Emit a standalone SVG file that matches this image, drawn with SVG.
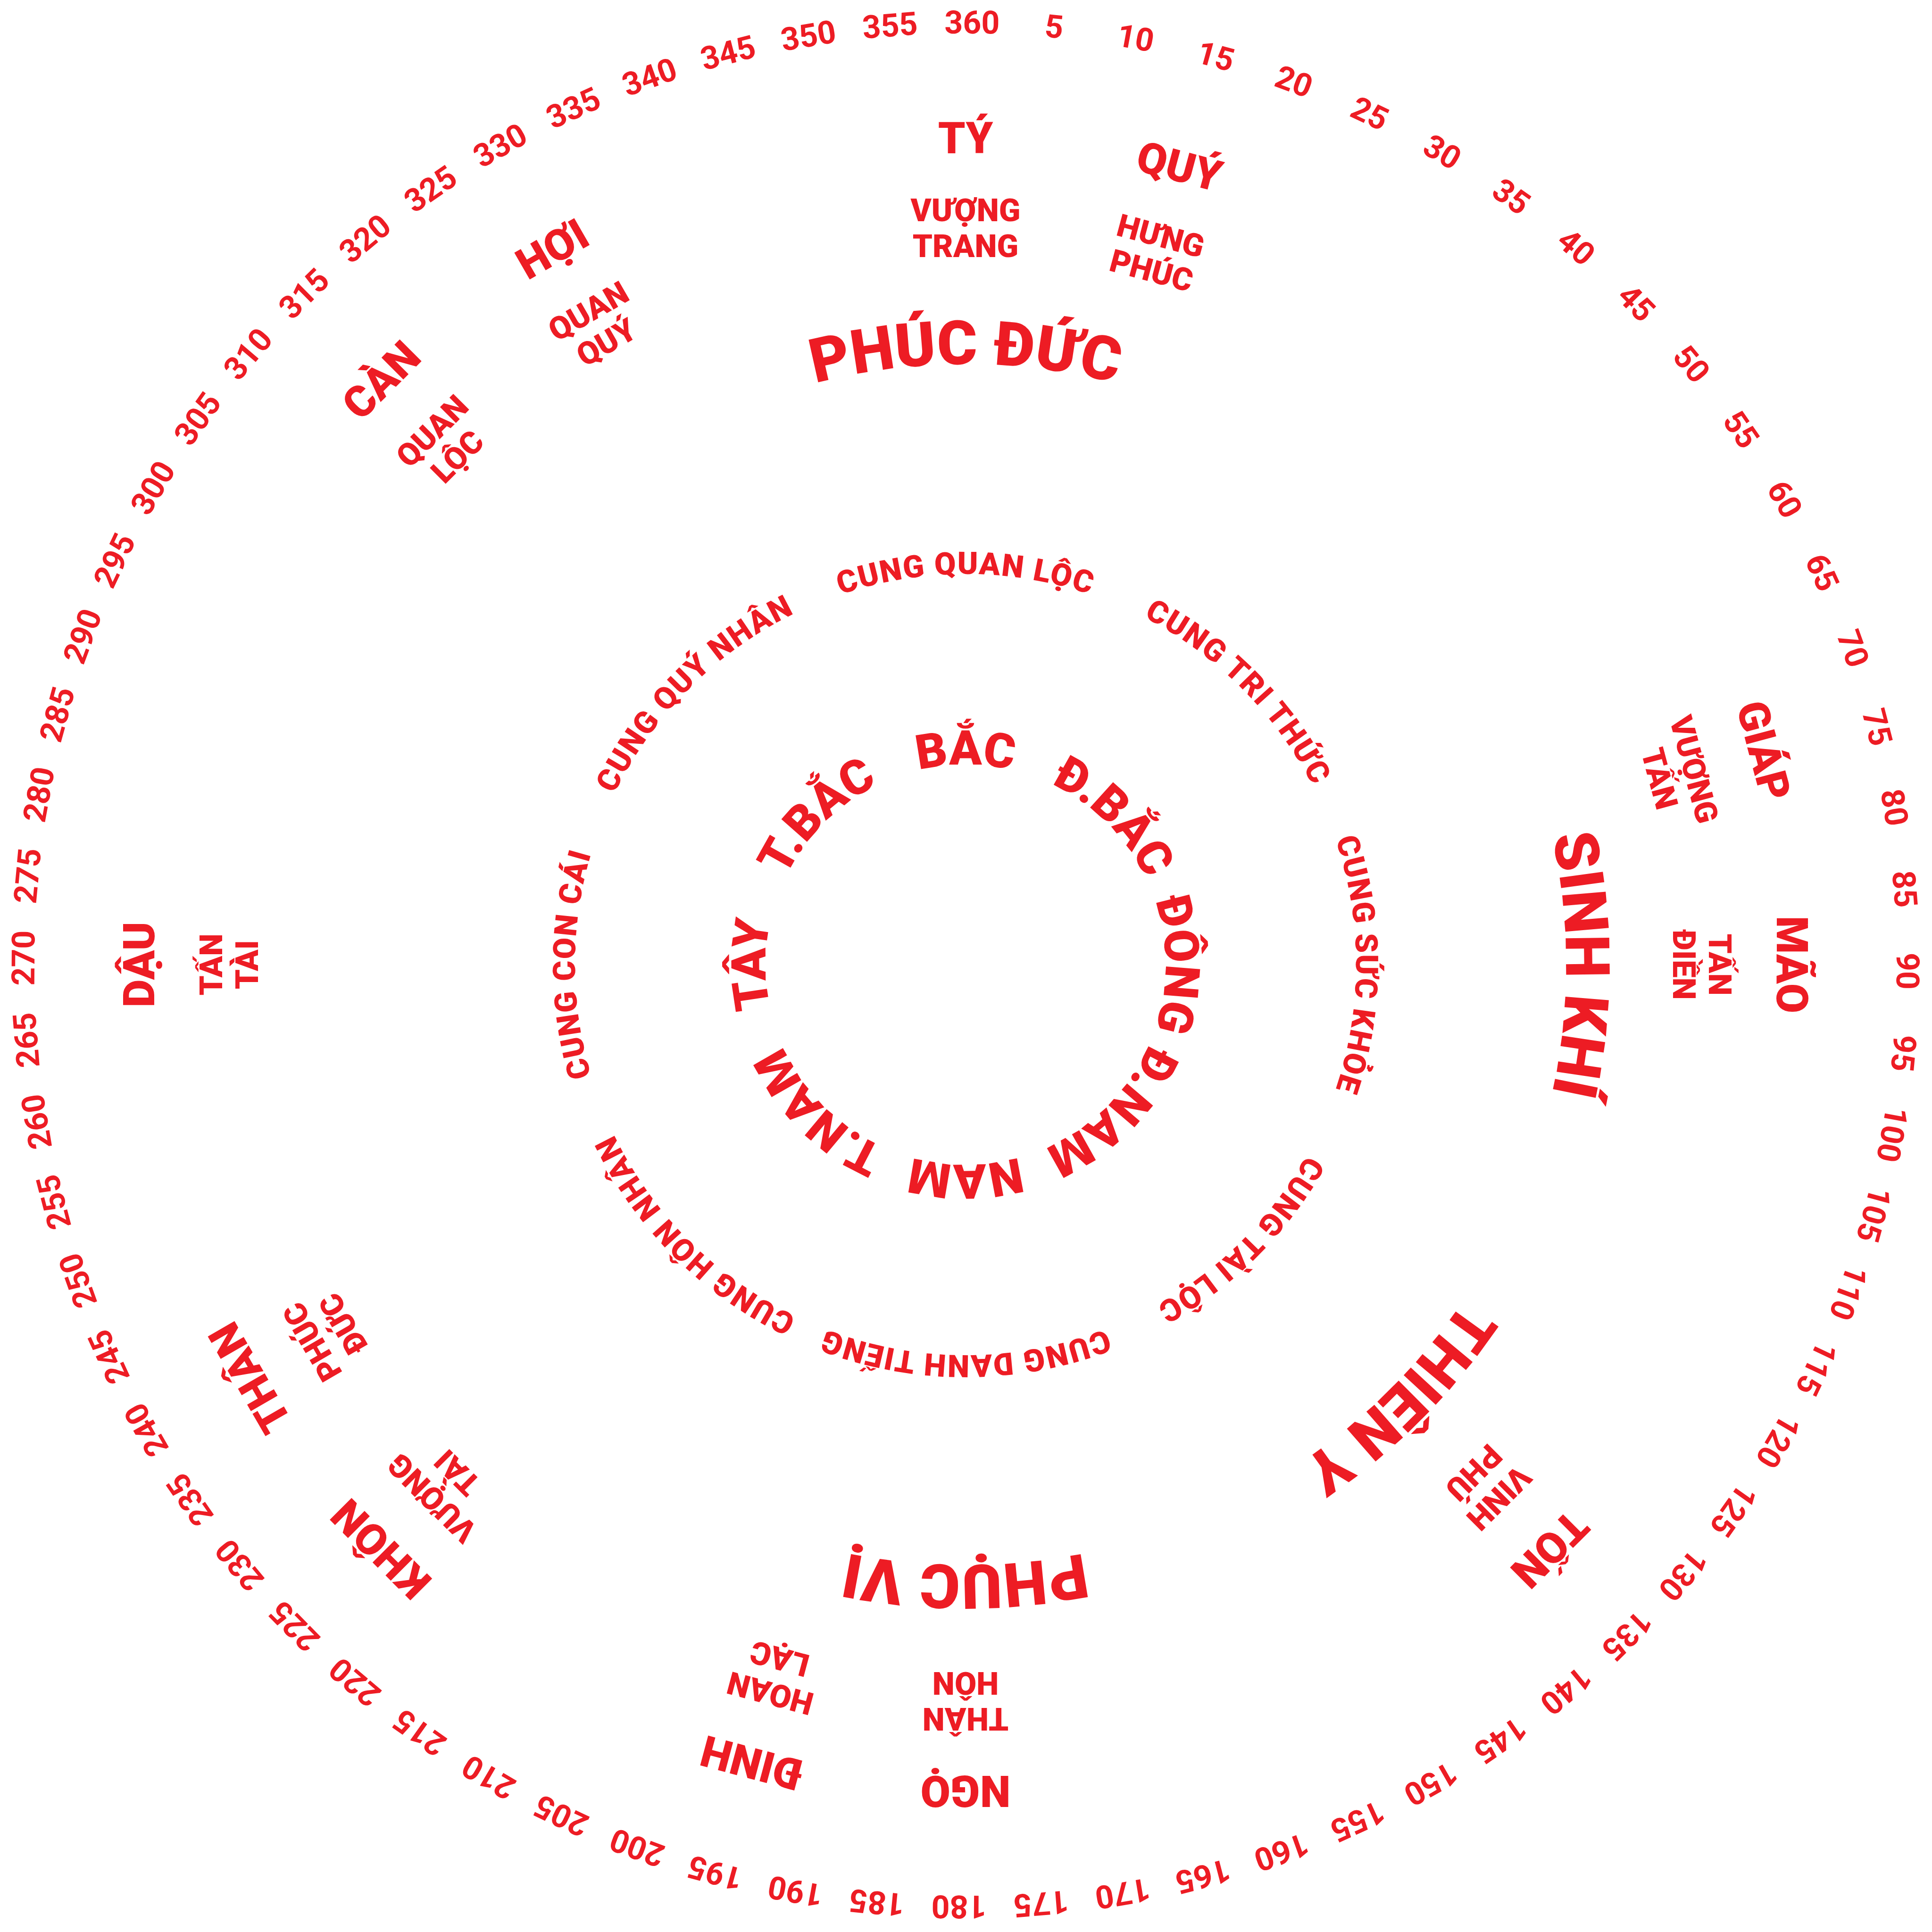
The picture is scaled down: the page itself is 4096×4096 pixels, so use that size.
<svg xmlns="http://www.w3.org/2000/svg" xmlns:xlink="http://www.w3.org/1999/xlink" width="4096" height="4096" viewBox="0 0 4096 4096">
<style>
text{fill:#ED1C24;font-family:Roboto,"Liberation Sans",sans-serif;text-anchor:middle}
.deg{font-size:68px;font-weight:700}
.mt{font-size:92px;font-weight:900}
.sub{font-size:67px;font-weight:900}
.big{font-size:130px;font-weight:900}
.cung{font-size:66px;font-weight:900;letter-spacing:2px}
.dir{font-size:102px;font-weight:900}
</style>
<defs>
<path id="pBig" d="M2047,3318 A1273,1273 0 0 1 2047,772 A1273,1273 0 0 1 2047,3318"/>
<path id="pCung" d="M2047,2873 A828,828 0 0 1 2047,1217 A828,828 0 0 1 2047,2873"/>
<path id="pDir" d="M2047,2469 A424,424 0 0 1 2047,1621 A424,424 0 0 1 2047,2469"/>
</defs>
<rect width="4096" height="4096" fill="#fff"/>
<g id="degrees">
<text class="deg" transform="rotate(5.4 2047 2045)" x="2047" y="71">5</text>
<text class="deg" transform="rotate(10.4 2047 2045)" x="2047" y="71">10</text>
<text class="deg" transform="rotate(15.4 2047 2045)" x="2047" y="71">15</text>
<text class="deg" transform="rotate(20.4 2047 2045)" x="2047" y="71">20</text>
<text class="deg" transform="rotate(25.4 2047 2045)" x="2047" y="71">25</text>
<text class="deg" transform="rotate(30.4 2047 2045)" x="2047" y="71">30</text>
<text class="deg" transform="rotate(35.4 2047 2045)" x="2047" y="71">35</text>
<text class="deg" transform="rotate(40.4 2047 2045)" x="2047" y="71">40</text>
<text class="deg" transform="rotate(45.4 2047 2045)" x="2047" y="71">45</text>
<text class="deg" transform="rotate(50.4 2047 2045)" x="2047" y="71">50</text>
<text class="deg" transform="rotate(55.4 2047 2045)" x="2047" y="71">55</text>
<text class="deg" transform="rotate(60.4 2047 2045)" x="2047" y="71">60</text>
<text class="deg" transform="rotate(65.4 2047 2045)" x="2047" y="71">65</text>
<text class="deg" transform="rotate(70.4 2047 2045)" x="2047" y="71">70</text>
<text class="deg" transform="rotate(75.4 2047 2045)" x="2047" y="71">75</text>
<text class="deg" transform="rotate(80.4 2047 2045)" x="2047" y="71">80</text>
<text class="deg" transform="rotate(85.4 2047 2045)" x="2047" y="71">85</text>
<text class="deg" transform="rotate(90.4 2047 2045)" x="2047" y="71">90</text>
<text class="deg" transform="rotate(95.4 2047 2045)" x="2047" y="71">95</text>
<text class="deg" transform="rotate(100.4 2047 2045)" x="2047" y="71">100</text>
<text class="deg" transform="rotate(105.4 2047 2045)" x="2047" y="71">105</text>
<text class="deg" transform="rotate(110.4 2047 2045)" x="2047" y="71">110</text>
<text class="deg" transform="rotate(115.4 2047 2045)" x="2047" y="71">115</text>
<text class="deg" transform="rotate(120.4 2047 2045)" x="2047" y="71">120</text>
<text class="deg" transform="rotate(125.4 2047 2045)" x="2047" y="71">125</text>
<text class="deg" transform="rotate(130.4 2047 2045)" x="2047" y="71">130</text>
<text class="deg" transform="rotate(135.4 2047 2045)" x="2047" y="71">135</text>
<text class="deg" transform="rotate(140.4 2047 2045)" x="2047" y="71">140</text>
<text class="deg" transform="rotate(145.4 2047 2045)" x="2047" y="71">145</text>
<text class="deg" transform="rotate(150.4 2047 2045)" x="2047" y="71">150</text>
<text class="deg" transform="rotate(155.4 2047 2045)" x="2047" y="71">155</text>
<text class="deg" transform="rotate(160.4 2047 2045)" x="2047" y="71">160</text>
<text class="deg" transform="rotate(165.4 2047 2045)" x="2047" y="71">165</text>
<text class="deg" transform="rotate(170.4 2047 2045)" x="2047" y="71">170</text>
<text class="deg" transform="rotate(175.4 2047 2045)" x="2047" y="71">175</text>
<text class="deg" transform="rotate(180.4 2047 2045)" x="2047" y="71">180</text>
<text class="deg" transform="rotate(185.4 2047 2045)" x="2047" y="71">185</text>
<text class="deg" transform="rotate(190.4 2047 2045)" x="2047" y="71">190</text>
<text class="deg" transform="rotate(195.4 2047 2045)" x="2047" y="71">195</text>
<text class="deg" transform="rotate(200.4 2047 2045)" x="2047" y="71">200</text>
<text class="deg" transform="rotate(205.4 2047 2045)" x="2047" y="71">205</text>
<text class="deg" transform="rotate(210.4 2047 2045)" x="2047" y="71">210</text>
<text class="deg" transform="rotate(215.4 2047 2045)" x="2047" y="71">215</text>
<text class="deg" transform="rotate(220.4 2047 2045)" x="2047" y="71">220</text>
<text class="deg" transform="rotate(225.4 2047 2045)" x="2047" y="71">225</text>
<text class="deg" transform="rotate(230.4 2047 2045)" x="2047" y="71">230</text>
<text class="deg" transform="rotate(235.4 2047 2045)" x="2047" y="71">235</text>
<text class="deg" transform="rotate(240.4 2047 2045)" x="2047" y="71">240</text>
<text class="deg" transform="rotate(245.4 2047 2045)" x="2047" y="71">245</text>
<text class="deg" transform="rotate(250.4 2047 2045)" x="2047" y="71">250</text>
<text class="deg" transform="rotate(255.4 2047 2045)" x="2047" y="71">255</text>
<text class="deg" transform="rotate(260.4 2047 2045)" x="2047" y="71">260</text>
<text class="deg" transform="rotate(265.4 2047 2045)" x="2047" y="71">265</text>
<text class="deg" transform="rotate(270.4 2047 2045)" x="2047" y="71">270</text>
<text class="deg" transform="rotate(275.4 2047 2045)" x="2047" y="71">275</text>
<text class="deg" transform="rotate(280.4 2047 2045)" x="2047" y="71">280</text>
<text class="deg" transform="rotate(285.4 2047 2045)" x="2047" y="71">285</text>
<text class="deg" transform="rotate(290.4 2047 2045)" x="2047" y="71">290</text>
<text class="deg" transform="rotate(295.4 2047 2045)" x="2047" y="71">295</text>
<text class="deg" transform="rotate(300.4 2047 2045)" x="2047" y="71">300</text>
<text class="deg" transform="rotate(305.4 2047 2045)" x="2047" y="71">305</text>
<text class="deg" transform="rotate(310.4 2047 2045)" x="2047" y="71">310</text>
<text class="deg" transform="rotate(315.4 2047 2045)" x="2047" y="71">315</text>
<text class="deg" transform="rotate(320.4 2047 2045)" x="2047" y="71">320</text>
<text class="deg" transform="rotate(325.4 2047 2045)" x="2047" y="71">325</text>
<text class="deg" transform="rotate(330.4 2047 2045)" x="2047" y="71">330</text>
<text class="deg" transform="rotate(335.4 2047 2045)" x="2047" y="71">335</text>
<text class="deg" transform="rotate(340.4 2047 2045)" x="2047" y="71">340</text>
<text class="deg" transform="rotate(345.4 2047 2045)" x="2047" y="71">345</text>
<text class="deg" transform="rotate(350.4 2047 2045)" x="2047" y="71">350</text>
<text class="deg" transform="rotate(355.4 2047 2045)" x="2047" y="71">355</text>
<text class="deg" transform="rotate(0.4 2047 2045)" x="2047" y="71">360</text>
</g>
<g id="mountains">
<g id="m-ty" transform="rotate(0 2047 2045)"><text class="mt" x="2047" y="325">TÝ</text><text class="sub"><tspan x="2047" y="469">VƯỢNG</tspan><tspan x="2047" y="545">TRANG</tspan></text></g>
<g id="m-quy" transform="rotate(15 2047 2045)"><text class="mt" x="2047" y="325">QUÝ</text><text class="sub"><tspan x="2047" y="469">HƯNG</tspan><tspan x="2047" y="545">PHÚC</tspan></text></g>
<g id="m-giap" transform="rotate(75 2047 2045)"><text class="mt" x="2047" y="325">GIÁP</text><text class="sub"><tspan x="2047" y="469">VƯỢNG</tspan><tspan x="2047" y="545">TẤN</tspan></text></g>
<g id="m-mao" transform="rotate(90 2047 2045)"><text class="mt" x="2047" y="325">MÃO</text><text class="sub"><tspan x="2047" y="469">TẤN</tspan><tspan x="2047" y="545">ĐIỀN</tspan></text></g>
<g id="m-ton" transform="rotate(135 2047 2045)"><text class="mt" x="2047" y="325">TỐN</text><text class="sub"><tspan x="2047" y="469">VINH</tspan><tspan x="2047" y="545">PHÚ</tspan></text></g>
<g id="m-ngo" transform="rotate(180 2047 2045)"><text class="mt" x="2047" y="325">NGỌ</text><text class="sub"><tspan x="2047" y="469">THÂN</tspan><tspan x="2047" y="545">HÔN</tspan></text></g>
<g id="m-dinh" transform="rotate(195 2047 2045)"><text class="mt" x="2047" y="325">ĐINH</text><text class="sub"><tspan x="2047" y="469">HOAN</tspan><tspan x="2047" y="545">LẠC</tspan></text></g>
<g id="m-khon" transform="rotate(225 2047 2045)"><text class="mt" x="2047" y="325">KHÔN</text><text class="sub"><tspan x="2047" y="469">VƯỢNG</tspan><tspan x="2047" y="545">TÀI</tspan></text></g>
<g id="m-than" transform="rotate(240 2047 2045)"><text class="mt" x="2047" y="325">THÂN</text><text class="sub"><tspan x="2047" y="469">PHÚC</tspan><tspan x="2047" y="545">ĐỨC</tspan></text></g>
<g id="m-dau" transform="rotate(270 2047 2045)"><text class="mt" x="2047" y="325">DẬU</text><text class="sub"><tspan x="2047" y="469">TẤN</tspan><tspan x="2047" y="545">TÀI</tspan></text></g>
<g id="m-can" transform="rotate(315 2047 2045)"><text class="mt" x="2047" y="325">CÀN</text><text class="sub"><tspan x="2047" y="469">QUAN</tspan><tspan x="2047" y="545">LỘC</tspan></text></g>
<g id="m-hoi" transform="rotate(330 2047 2045)"><text class="mt" x="2047" y="325">HỢI</text><text class="sub"><tspan x="2047" y="469">QUAN</tspan><tspan x="2047" y="545">QUÝ</tspan></text></g>
</g>
<g id="stars">
<text id="s-phucduc" class="big" transform="rotate(0 2047 2045)"><textPath xlink:href="#pBig" href="#pBig" startOffset="50%">PHÚC ĐỨC</textPath></text>
<text id="s-sinhkhi" class="big" transform="rotate(90 2047 2045)"><textPath xlink:href="#pBig" href="#pBig" startOffset="50%">SINH KHÍ</textPath></text>
<text id="s-thieny" class="big" transform="rotate(135 2047 2045)"><textPath xlink:href="#pBig" href="#pBig" startOffset="50%">THIÊN Y</textPath></text>
<text id="s-phucvi" class="big" transform="rotate(180 2047 2045)"><textPath xlink:href="#pBig" href="#pBig" startOffset="50%">PHỤC VỊ</textPath></text>
</g>
<g id="cung">
<text class="cung" transform="rotate(0 2047 2045)"><textPath xlink:href="#pCung" href="#pCung" startOffset="50%">CUNG QUAN LỘC</textPath></text>
<text class="cung" transform="rotate(45 2047 2045)"><textPath xlink:href="#pCung" href="#pCung" startOffset="50%">CUNG TRI THỨC</textPath></text>
<text class="cung" transform="rotate(90 2047 2045)"><textPath xlink:href="#pCung" href="#pCung" startOffset="50%">CUNG SỨC KHỎE</textPath></text>
<text class="cung" transform="rotate(135 2047 2045)"><textPath xlink:href="#pCung" href="#pCung" startOffset="50%">CUNG TÀI LỘC</textPath></text>
<text class="cung" transform="rotate(180 2047 2045)"><textPath xlink:href="#pCung" href="#pCung" startOffset="50%">CUNG DANH TIẾNG</textPath></text>
<text class="cung" transform="rotate(225 2047 2045)"><textPath xlink:href="#pCung" href="#pCung" startOffset="50%">CUNG HÔN NHÂN</textPath></text>
<text class="cung" transform="rotate(270 2047 2045)"><textPath xlink:href="#pCung" href="#pCung" startOffset="50%">CUNG CON CÁI</textPath></text>
<text class="cung" transform="rotate(315 2047 2045)"><textPath xlink:href="#pCung" href="#pCung" startOffset="50%">CUNG QUÝ NHÂN</textPath></text>
</g>
<g id="directions">
<text class="dir" transform="rotate(0 2047 2045)"><textPath xlink:href="#pDir" href="#pDir" startOffset="50%">BẮC</textPath></text>
<text class="dir" transform="rotate(45 2047 2045)"><textPath xlink:href="#pDir" href="#pDir" startOffset="50%">Đ.BẮC</textPath></text>
<text class="dir" transform="rotate(90 2047 2045)"><textPath xlink:href="#pDir" href="#pDir" startOffset="50%">ĐÔNG</textPath></text>
<text class="dir" transform="rotate(135 2047 2045)"><textPath xlink:href="#pDir" href="#pDir" startOffset="50%">Đ.NAM</textPath></text>
<text class="dir" transform="rotate(180 2047 2045)"><textPath xlink:href="#pDir" href="#pDir" startOffset="50%">NAM</textPath></text>
<text class="dir" transform="rotate(225 2047 2045)"><textPath xlink:href="#pDir" href="#pDir" startOffset="50%">T.NAM</textPath></text>
<text class="dir" transform="rotate(270 2047 2045)"><textPath xlink:href="#pDir" href="#pDir" startOffset="50%">TÂY</textPath></text>
<text class="dir" transform="rotate(315 2047 2045)"><textPath xlink:href="#pDir" href="#pDir" startOffset="50%">T.BẮC</textPath></text>
</g>
</svg>
